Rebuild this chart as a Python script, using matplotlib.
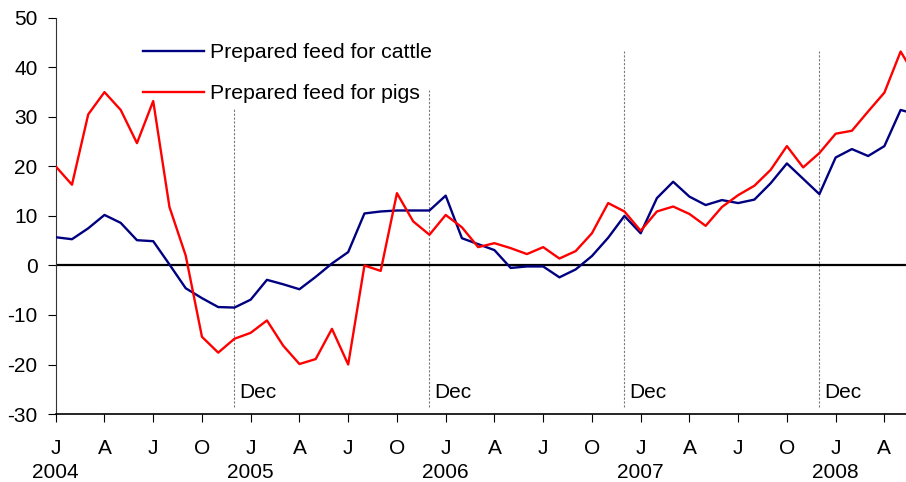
import matplotlib
matplotlib.use("Agg")
import matplotlib.pyplot as plt
import matplotlib.transforms as mtransforms
import numpy as np

plt.rcParams['font.family'] = ['Liberation Sans', 'DejaVu Sans']
plt.rcParams['axes.unicode_minus'] = False

# Monthly index, Jan 2004 .. Jun 2008 (annual % change)
cattle = [5.7, 5.3, 7.5, 10.2, 8.6, 5.1, 4.9, 0.2, -4.6, -6.6, -8.4, -8.5,
          -6.9, -2.9, -3.8, -4.8, -2.3, 0.4, 2.7, 10.5, 10.9, 11.1, 11.1, 11.1,
          14.1, 5.5, 4.3, 3.1, -0.5, -0.2, -0.2, -2.4, -0.8, 1.9, 5.6, 10.0,
          6.5, 13.6, 16.9, 13.9, 12.2, 13.2, 12.6, 13.3, 16.6, 20.6, 17.5, 14.4,
          21.8, 23.5, 22.1, 24.1, 31.4, 30.5]
pigs = [20.0, 16.3, 30.5, 35.0, 31.4, 24.7, 33.2, 11.8, 2.0, -14.4, -17.6, -14.8,
        -13.6, -11.1, -16.2, -19.9, -18.9, -12.8, -20.0, 0.0, -1.1, 14.6, 8.9, 6.2,
        10.2, 7.7, 3.7, 4.5, 3.5, 2.3, 3.7, 1.4, 2.9, 6.5, 12.6, 10.9,
        7.0, 10.9, 11.9, 10.4, 8.0, 11.8, 14.2, 16.1, 19.3, 24.1, 19.8, 22.7,
        26.6, 27.2, 31.1, 34.9, 43.2, 37.7]
series_labels = ["Prepared feed for cattle", "Prepared feed for pigs"]
month_letters = ["J", "A", "J", "O"]
years = ["2004", "2005", "2006", "2007", "2008"]
dec_positions = [11, 23, 35, 47]
dec_tops = [31.8, 35.5, 43.3, 43.3]

x = np.arange(len(cattle))

fig = plt.figure(figsize=(9.06, 4.82), dpi=100)
ax = fig.add_axes([0.0615, 0.141, 0.9385, 0.822])

FS = 15

# December markers
for d, top in zip(dec_positions, dec_tops):
    ax.plot([d, d], [-28.6, top], color='#7a7a7a', lw=0.8,
            linestyle=(0, (2.0, 1.5)), zorder=1)
    ax.text(d + 0.3, -25.6, "Dec", fontsize=FS, va='center', ha='left')

ax.axhline(0, color='black', lw=1.6, zorder=2)

ax.plot(x, cattle, color='#000080', lw=1.7, label=series_labels[0], zorder=3)
ax.plot(x, pigs, color='#ff0000', lw=1.7, label=series_labels[1], zorder=3)

ax.set_xlim(0, 52.33)
ax.set_ylim(-30, 50)
ax.set_yticks(range(-30, 51, 10))

ticks = np.arange(0, 52, 3)
ax.set_xticks(ticks)
ax.set_xticklabels([month_letters[(t // 3) % 4] for t in ticks])

ax.tick_params(axis='y', direction='out', length=6, width=0.8, pad=7,
               labelsize=FS, colors='black')
ax.tick_params(axis='x', direction='out', length=6, width=0.8, pad=12,
               labelsize=FS)

trans = mtransforms.blended_transform_factory(ax.transData, ax.transAxes)
for k, yr in enumerate(years):
    ax.text(12 * k, -0.147, yr, transform=trans, fontsize=FS,
            ha='center', va='center')

for s in ['top', 'right']:
    ax.spines[s].set_visible(False)
ax.spines['left'].set_color('#333333')
ax.spines['left'].set_linewidth(0.8)
ax.spines['bottom'].set_color('black')
ax.spines['bottom'].set_linewidth(1.2)

leg = ax.legend(loc='upper left', bbox_to_anchor=(143 / 906, 1 - 43 / 482),
                bbox_transform=fig.transFigure, frameon=False, fontsize=15.3,
                handlelength=2.85, handletextpad=0.28, labelspacing=1.05,
                borderaxespad=0, borderpad=0)

fig.savefig("out.png", dpi=100)
